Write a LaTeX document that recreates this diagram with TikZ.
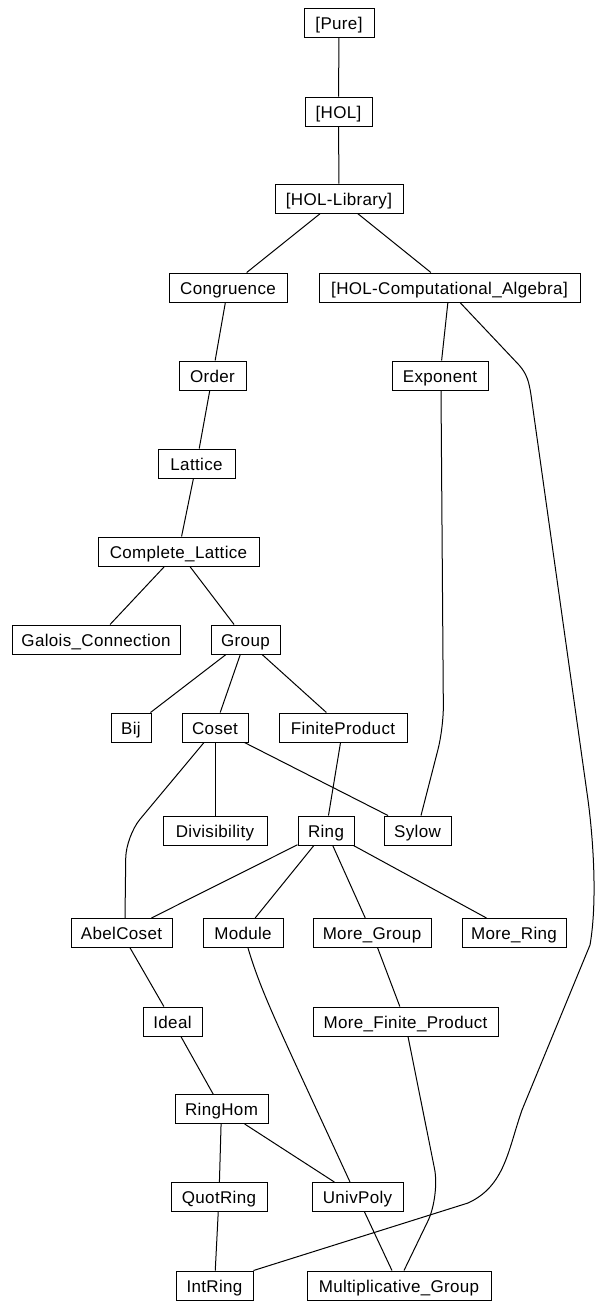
\documentclass[tikz,border=0pt]{standalone}
\usepackage{fontspec}
\setmainfont[LetterSpace=2]{Liberation Sans}
\begin{document}
\begin{tikzpicture}[x=1pt,y=-1pt,
  box/.style={draw, line width=1pt, minimum height=29pt, inner sep=0pt, text height=13pt, text depth=0pt, font=\fontsize{17}{20}\selectfont},
  edge/.style={line width=1pt}]
\fill[white] (0,0) rectangle (595,1302);
\useasboundingbox (0,0) rectangle (595,1302);
% nodes
\node[box, minimum width=70pt]  (pure)    at (339,23)     {[Pure]};
\node[box, minimum width=67pt]  (hol)     at (338.5,111.5){[HOL]};
\node[box, minimum width=128pt] (hollib)  at (339,198.5)  {[HOL-Library]};
\node[box, minimum width=118pt] (cong)    at (228,287.5)  {Congruence};
\node[box, minimum width=261pt] (hca)     at (449.5,287.5){[HOL-Computational\_Algebra]};
\node[box, minimum width=67pt]  (order)   at (212.5,375.5){Order};
\node[box, minimum width=96pt]  (expo)    at (440,375.5)  {Exponent};
\node[box, minimum width=77pt]  (lattice) at (196.5,463.5){Lattice};
\node[box, minimum width=161pt] (cl)      at (178.5,551.5){Complete\_Lattice};
\node[box, minimum width=168pt] (galois)  at (96,639.5)   {Galois\_Connection};
\node[box, minimum width=69pt]  (group)   at (245.5,639.5){Group};
\node[box, minimum width=40pt]  (bij)     at (131,727.5)  {Bij};
\node[box, minimum width=66pt]  (coset)   at (215,727.5)  {Coset};
\node[box, minimum width=128pt] (fp)      at (343,727.5)  {FiniteProduct};
\node[box, minimum width=104pt] (div)     at (215,830.5)  {Divisibility};
\node[box, minimum width=56pt]  (ring)    at (326,830.5)  {Ring};
\node[box, minimum width=67pt]  (sylow)   at (417.5,830.5){Sylow};
\node[box, minimum width=101pt] (abel)    at (121.5,933)  {AbelCoset};
\node[box, minimum width=80pt]  (module)  at (243,933)    {Module};
\node[box, minimum width=118pt] (mgroup)  at (372,933)    {More\_Group};
\node[box, minimum width=104pt] (mring)   at (514,933)    {More\_Ring};
\node[box, minimum width=59pt]  (ideal)   at (172.5,1021.5){Ideal};
\node[box, minimum width=185pt] (mfp)     at (405.5,1021.5){More\_Finite\_Product};
\node[box, minimum width=93pt]  (ringhom) at (221.5,1109) {RingHom};
\node[box, minimum width=96pt]  (quot)    at (219,1197)   {QuotRing};
\node[box, minimum width=91pt]  (univ)    at (357.5,1197) {UnivPoly};
\node[box, minimum width=77pt]  (intring) at (214.5,1285.5){IntRing};
\node[box, minimum width=184pt] (mult)    at (399,1285.5) {Multiplicative\_Group};
% straight edges
\draw[edge] (pure) -- (hol);
\draw[edge] (hol) -- (hollib);
\draw[edge] (hollib) -- (cong);
\draw[edge] (hollib) -- (hca);
\draw[edge] (cong) -- (order);
\draw[edge] (order) -- (lattice);
\draw[edge] (lattice) -- (cl);
\draw[edge] (hca) -- (expo);
\draw[edge] (cl) -- (galois);
\draw[edge] (cl) -- (group);
\draw[edge] (group) -- (bij);
\draw[edge] (group) -- (coset);
\draw[edge] (group) -- (fp);
\draw[edge] (coset) -- (div);
\draw[edge] (coset) -- (sylow);
\draw[edge] (fp) -- (ring);
\draw[edge] (ring) -- (abel);
\draw[edge] (ring) -- (module);
\draw[edge] (ring) -- (mgroup);
\draw[edge] (ring) -- (mring);
\draw[edge] (abel) -- (ideal);
\draw[edge] (mgroup) -- (mfp);
\draw[edge] (ideal) -- (ringhom);
\draw[edge] (ringhom) -- (quot);
\draw[edge] (ringhom) -- (univ);
\draw[edge] (quot) -- (intring);
\draw[edge] (univ) -- (mult);
% curved edges
\draw[edge, rounded corners=22pt] ([xshift=-11pt]coset.south) -- (126,836) -- ([xshift=3.5pt]abel.north);
\draw[edge, rounded corners=22pt] ([xshift=1pt]expo.south) -- (443.5,728) -- ([xshift=3.5pt]sylow.north);
\draw[edge] ([xshift=5pt]module.south) .. controls (262,995) and (280,1030) .. ([xshift=-7.5pt]univ.north);
\draw[edge, rounded corners=28pt] ([xshift=2.5pt]mfp.south) -- (440,1196) -- ([xshift=5pt]mult.north);
\draw[edge] ([xshift=10.5pt]hca.south) -- (519,365)
  .. controls (527,374) and (529,382) .. (531,395)
  -- (588,800)
  .. controls (594,845) and (597,905) .. (590,945)
  -- (522,1110)
  .. controls (508,1150) and (505,1186) .. (468,1203)
  -- (intring.north east);
\end{tikzpicture}
\end{document}
